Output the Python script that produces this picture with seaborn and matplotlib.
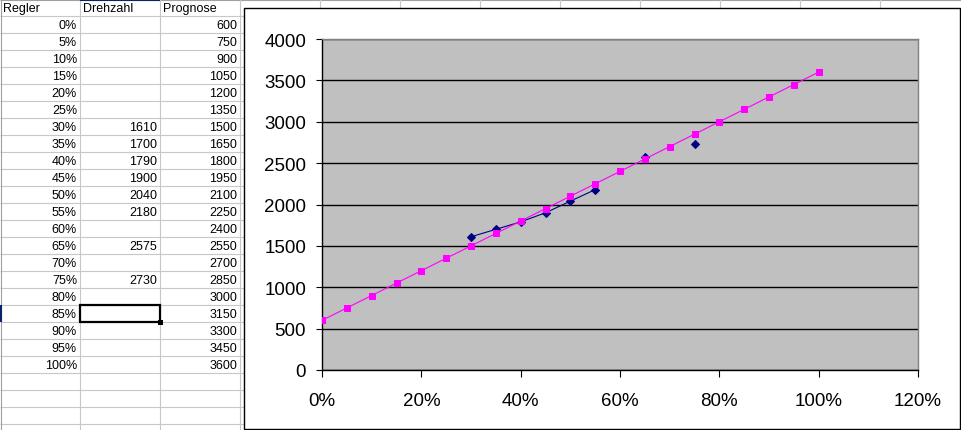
import numpy as np
import pandas as pd
import matplotlib
matplotlib.use("Agg")
import matplotlib.pyplot as plt
from matplotlib.patches import Rectangle
from matplotlib.ticker import PercentFormatter
import seaborn as sns

# ---- data ----
regler = [0.00, 0.05, 0.10, 0.15, 0.20, 0.25, 0.30, 0.35, 0.40, 0.45, 0.50,
          0.55, 0.60, 0.65, 0.70, 0.75, 0.80, 0.85, 0.90, 0.95, 1.00]
regler_labels = ["0%", "5%", "10%", "15%", "20%", "25%", "30%", "35%", "40%", "45%", "50%",
                 "55%", "60%", "65%", "70%", "75%", "80%", "85%", "90%", "95%", "100%"]
drehzahl = [None, None, None, None, None, None, 1610, 1700, 1790, 1900, 2040,
            2180, None, 2575, None, 2730, None, None, None, None, None]
prognose = [600, 750, 900, 1050, 1200, 1350, 1500, 1650, 1800, 1950, 2100,
            2250, 2400, 2550, 2700, 2850, 3000, 3150, 3300, 3450, 3600]
headers = ["Regler", "Drehzahl", "Prognose"]
y_ticks = [0, 500, 1000, 1500, 2000, 2500, 3000, 3500, 4000]
x_ticks = [0.0, 0.2, 0.4, 0.6, 0.8, 1.0, 1.2]

plt.rcParams['font.family'] = ['Liberation Sans', 'DejaVu Sans']

W, H = 961, 431
fig = plt.figure(figsize=(W / 100, H / 100), dpi=100)

# ---- spreadsheet background ----
bg = fig.add_axes([0, 0, 1, 1])
bg.set_xlim(0, W)
bg.set_ylim(H, 0)
bg.axis("off")
grid_c = "#C8C8C8"
for k in range(1, 26):
    bg.hlines(17 * k, 0, W, color=grid_c, lw=0.8, zorder=1)
bg.hlines(0.6, 0, W, color="#A0A0A0", lw=0.8, zorder=1)
for xv in [80, 160, 240, 320, 400, 480, 560, 640, 720, 800, 880]:
    bg.vlines(xv, 0, H, color=grid_c, lw=0.8, zorder=1)
bg.vlines(0.6, 0, H, color="#A0A0A0", lw=0.8, zorder=1)

# header row
for i, h in enumerate(headers):
    bg.text(3 + 80 * i, 9, h, ha="left", va="center", fontsize=9, zorder=2)
# rows
for r in range(len(regler)):
    yc = 17 * (r + 1) + 9
    bg.text(77, yc, regler_labels[r], ha="right", va="center", fontsize=9, zorder=2)
    if drehzahl[r] is not None:
        bg.text(157, yc, str(drehzahl[r]), ha="right", va="center", fontsize=9, zorder=2)
    bg.text(237, yc, str(prognose[r]), ha="right", va="center", fontsize=9, zorder=2)

# header highlights and selected cell (85% row, Drehzahl column)
bg.hlines(0.8, 80, 160, color="#0A246A", lw=1.5, zorder=3)
sel_row = regler_labels.index("85%") + 1
bg.vlines(0.8, 17 * sel_row, 17 * (sel_row + 1), color="#0A246A", lw=1.5, zorder=3)
bg.add_patch(Rectangle((80, 17 * sel_row), 80, 17, fill=False, ec="black", lw=1.6, zorder=4))
bg.add_patch(Rectangle((158, 17 * (sel_row + 1) - 2), 4.5, 4.5, fc="black", ec="none", zorder=5))

# chart area
bg.add_patch(Rectangle((244, 9), 716, 421, fc="white", ec="black", lw=1.0, zorder=6))

# ---- plot area ----
left, right, top, bottom = 322, 918, 40, 371
ax = fig.add_axes([left / W, (H - bottom) / H, (right - left) / W, (bottom - top) / H])
ax.set_facecolor("#C0C0C0")

df = pd.DataFrame({"Regler": regler,
                   "Drehzahl": [np.nan if v is None else v for v in drehzahl],
                   "Prognose": prognose})
seg = df["Drehzahl"].isna().cumsum()
df_d = df.assign(seg=seg).dropna(subset=["Drehzahl"])

sns.lineplot(data=df_d, x="Regler", y="Drehzahl", units="seg", estimator=None,
             color="#000080", marker="D", markersize=4, markeredgecolor="#000080",
             linewidth=0.8, legend=False, ax=ax, zorder=4)
sns.lineplot(data=df, x="Regler", y="Prognose", estimator=None,
             color="#FF00FF", marker="s", markersize=4.3, markeredgecolor="#FF00FF",
             linewidth=0.8, legend=False, ax=ax, zorder=5)

ax.set_xlim(0, 1.2)
ax.set_ylim(0, 4000)
ax.set_xticks(x_ticks)
ax.set_yticks(y_ticks)
ax.xaxis.set_major_formatter(PercentFormatter(xmax=1, decimals=0))
ax.set_xlabel("")
ax.set_ylabel("")
ax.set_axisbelow(True)
ax.yaxis.grid(True, color="black", lw=1.0)
ax.xaxis.grid(False)
for s in ["left", "bottom"]:
    ax.spines[s].set_color("black")
    ax.spines[s].set_linewidth(1.0)
for s in ["top", "right"]:
    ax.spines[s].set_color("#808080")
    ax.spines[s].set_linewidth(1.0)
ax.tick_params(axis="y", direction="out", length=4.5, width=0.8, pad=7, labelsize=13.5)
ax.tick_params(axis="x", direction="out", length=5, width=0.8, pad=10.5, labelsize=13.5)

fig.savefig("out.png", dpi=100)
